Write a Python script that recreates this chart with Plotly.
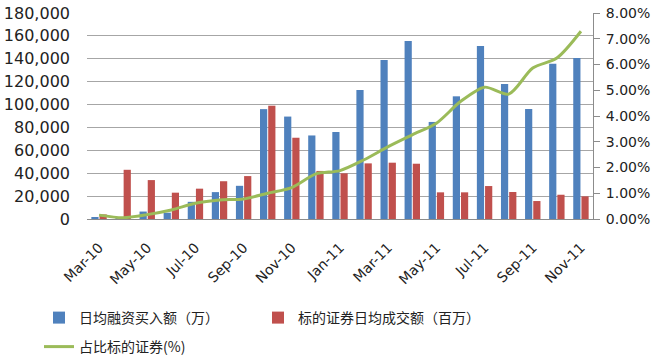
import plotly.graph_objects as go

months = ['Mar-10', 'Apr-10', 'May-10', 'Jun-10', 'Jul-10', 'Aug-10', 'Sep-10',
          'Oct-10', 'Nov-10', 'Dec-10', 'Jan-11', 'Feb-11', 'Mar-11', 'Apr-11',
          'May-11', 'Jun-11', 'Jul-11', 'Aug-11', 'Sep-11', 'Oct-11', 'Nov-11']
tick_labels = months[::2]

financing_buy = [1000, 300, 6500, 5500, 15000, 23500, 29000, 96000, 89500, 73000,
                 76000, 112700, 138900, 155500, 84800, 107200, 151200, 118000,
                 96100, 135700, 140700]
turnover = [4000, 43000, 34000, 23000, 26500, 33000, 37500, 99000, 71000, 42000,
            39900, 48600, 49200, 48300, 23300, 23300, 28800, 23600, 15700,
            21200, 19800]
ratio_pct = [0.15, 0.05, 0.17, 0.35, 0.61, 0.74, 0.78, 1.00, 1.22, 1.75, 1.88,
             2.30, 2.81, 3.27, 3.72, 4.56, 5.12, 4.85, 5.86, 6.25, 7.29]
ratio = [v / 100 for v in ratio_pct]

names = ['日均融资买入额（万）', '标的证券日均成交额（百万）', '占比标的证券(%)']

fig = go.Figure()
fig.add_trace(go.Bar(x=months, y=financing_buy, name=names[0], legend='legend',
                     marker=dict(color='#4F81BD', line=dict(width=0))))
fig.add_trace(go.Bar(x=months, y=turnover, name=names[1], legend='legend',
                     marker=dict(color='#C0504D', line=dict(width=0))))
fig.add_trace(go.Scatter(x=months, y=ratio, name=names[2], yaxis='y2',
                         legend='legend2', mode='lines',
                         line=dict(color='#9BBB59', width=3,
                                   shape='spline', smoothing=0.8)))

legend_font = dict(family='Noto Sans CJK SC', size=14, color='#222222')

fig.update_layout(
    width=664, height=360,
    margin=dict(l=87, r=71, t=13, b=141, autoexpand=False),
    paper_bgcolor='white', plot_bgcolor='white',
    barmode='group', bargap=0.32, bargroupgap=0.12,
    font=dict(family='Noto Sans CJK SC', color='#222222'),
    xaxis=dict(type='category', tickmode='array', tickvals=tick_labels,
               ticktext=tick_labels, tickangle=-45,
               tickfont=dict(family='DejaVu Sans', size=14, color='#222222'),
               showline=True, linecolor='#8c8c8c', linewidth=1,
               showgrid=False, ticks='', ticklabelstandoff=14,
               automargin=False),
    yaxis=dict(range=[0, 180000], dtick=20000, tickformat=',',
               tickfont=dict(family='DejaVu Sans', size=16, color='#222222'),
               showgrid=True, gridcolor='#a6a6a6',
               gridwidth=1, zeroline=False, showline=False, ticks='',
               ticklabelstandoff=16, automargin=False),
    yaxis2=dict(range=[0, 0.08], dtick=0.01, tickformat='.2%', overlaying='y',
                side='right',
                tickfont=dict(family='DejaVu Sans', size=14, color='#222222'),
                showgrid=False,
                zeroline=False, showline=True, linecolor='#8c8c8c',
                linewidth=1, ticks='outside', ticklen=6, tickcolor='#8c8c8c',
                ticklabelstandoff=3, automargin=False),
    legend=dict(orientation='h', xref='container', yref='container',
                x=39 / 664, xanchor='left', y=1 - 318 / 360, yanchor='middle',
                entrywidth=174, traceorder='normal', font=legend_font,
                itemwidth=30, bgcolor='rgba(0,0,0,0)'),
    legend2=dict(orientation='h', xref='container', yref='container',
                 x=39 / 664, xanchor='left', y=1 - 347 / 360, yanchor='middle',
                 font=legend_font, itemwidth=30, bgcolor='rgba(0,0,0,0)'),
    showlegend=True,
)

fig.write_html('out.html', config={'displayModeBar': False},
               post_script="document.body.style.margin='0px';"
                           "document.body.style.overflow='hidden';")
